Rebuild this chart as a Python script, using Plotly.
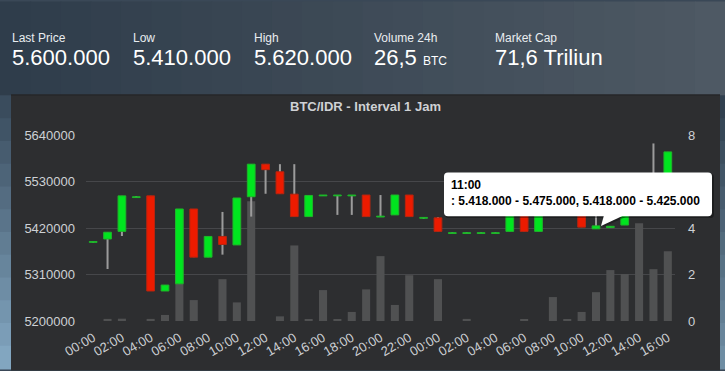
import plotly.graph_objects as go
import pandas as pd

# ---------------- data ----------------
start = "2018-01-01 00:00"
n_hours = 41
opens  = [5386000, 5394000, 5412000, 5492000, 5496000, 5271000, 5288000, 5465000, 5351000, 5400000,
          5380000, 5494000, 5571000, 5553000, 5500000, 5447000, 5496000, 5496000, 5496000, 5498000,
          5446000, 5451000, 5498000, 5443000, 5444000, 5407000, 5407000, 5407000, 5407000, 5412000,
          5458000, 5412000, 5462000, 5478000, 5475000, 5418000, 5421000, 5427000, 5460000, 5530000,
          5540000]
highs  = [5388000, 5410000, 5496000, 5494000, 5496000, 5285000, 5465000, 5465000, 5400000, 5458000,
          5491000, 5571000, 5571000, 5571000, 5571000, 5497000, 5498000, 5498000, 5498000, 5498000,
          5498000, 5498000, 5498000, 5445000, 5446000, 5409000, 5409000, 5409000, 5409000, 5455000,
          5458000, 5462000, 5500000, 5480000, 5475000, 5475000, 5424000, 5460000, 5530000, 5620000,
          5600000]
lows   = [5386000, 5323000, 5401000, 5492000, 5271000, 5271000, 5288000, 5351000, 5351000, 5357000,
          5380000, 5447000, 5501000, 5501000, 5447000, 5447000, 5496000, 5451000, 5451000, 5447000,
          5446000, 5451000, 5447000, 5443000, 5412000, 5407000, 5407000, 5407000, 5407000, 5412000,
          5412000, 5412000, 5462000, 5478000, 5422000, 5418000, 5421000, 5427000, 5460000, 5530000,
          5540000]
closes = [5388000, 5410000, 5496000, 5494000, 5271000, 5285000, 5465000, 5351000, 5400000, 5381000,
          5491000, 5571000, 5558000, 5501000, 5447000, 5497000, 5498000, 5498000, 5498000, 5447000,
          5448000, 5498000, 5447000, 5445000, 5412000, 5409000, 5409000, 5409000, 5409000, 5455000,
          5412000, 5462000, 5500000, 5480000, 5422000, 5425000, 5424000, 5460000, 5530000, 5540000,
          5600000]
volumes = [0, 0.09, 0.1, 0, 0.09, 0.26, 1.6, 0.9, 0, 1.8,
           0.8, 5.15, 0, 0.2, 3.25, 0.05, 1.33, 0.05, 0.39, 1.36,
           2.79, 0.69, 1.97, 0, 1.8, 0, 0.09, 0, 0, 0,
           0.05, 0, 1.03, 0.05, 0.39, 1.24, 2.19, 2.02, 4.2, 2.23,
           3.0]
price_ticks = [5200000, 5310000, 5420000, 5530000, 5640000]
volume_ticks = [0, 2, 4, 6, 8]
title_text = "BTC/IDR - Interval 1 Jam"
stat_labels = ["Last Price", "Low", "High", "Volume 24h", "Market Cap"]
stat_values = ["5.600.000", "5.410.000", "5.620.000", "26,5", "71,6 Triliun"]
stat_units = ["", "", "", "BTC", ""]
tooltip_index = 35

hours = pd.date_range(start, periods=n_hours, freq="h")

# ---------------- layout geometry ----------------
W, H = 725, 371
L, R, T, B = 86, 50, 135, 48
pw, ph = W - L - R, H - T - B
def px(x):
    return (x - L) / pw
def py(y):
    return (H - B - y) / ph

GREEN, RED = "#00e51f", "#ec1b00"
GREEN_E, RED_E = "#1fb52a", "#b8250f"
PANEL = "#2d2e30"
LABEL = "#cdd1d5"
HOUR = 3600000
FONT = "Liberation Sans, Arial, sans-serif"

body_base = [min(o, c) for o, c in zip(opens, closes)]
body_len = [abs(c - o) for o, c in zip(opens, closes)]
body_col = [GREEN if c >= o else RED for o, c in zip(opens, closes)]
body_edge = [GREEN_E if c >= o else RED_E for o, c in zip(opens, closes)]

fig = go.Figure()
fig.add_trace(go.Bar(x=hours, y=volumes, width=0.56 * HOUR, marker_color="#505152",
                     marker_line_width=0, yaxis="y", hoverinfo="skip"))
fig.add_trace(go.Bar(x=hours, base=lows, y=[h - l for h, l in zip(highs, lows)],
                     width=0.14 * HOUR, marker_color="#9b9b9b", marker_line_width=0,
                     yaxis="y2", hoverinfo="skip"))
fig.add_trace(go.Bar(x=hours, base=body_base, y=body_len, width=0.54 * HOUR,
                     marker=dict(color=body_col, line=dict(color=body_edge, width=1)),
                     yaxis="y2", hoverinfo="skip"))

shapes = []
# background gradient (header + side strips)
nseg = 24
c0, c1 = (47, 61, 75), (78, 89, 100)
for i in range(nseg):
    t = i / (nseg - 1)
    col = tuple(int(a + (b - a) * t) for a, b in zip(c0, c1))
    shapes.append(dict(type="rect", xref="paper", yref="paper", layer="below",
                       x0=px(i * W / nseg), x1=px((i + 1) * W / nseg + 1), y0=py(95), y1=py(0),
                       fillcolor="rgb(%d,%d,%d)" % col, line_width=0))
vseg = 12
v0, v1 = (58, 76, 93), (130, 166, 192)
for i in range(vseg):
    t = i / (vseg - 1)
    col = tuple(int(a + (b - a) * t) for a, b in zip(v0, v1))
    y0p = 95 + i * (H - 95) / vseg
    shapes.append(dict(type="rect", xref="paper", yref="paper", layer="below",
                       x0=px(0), x1=px(11), y0=py(y0p + (H - 95) / vseg + 1), y1=py(y0p),
                       fillcolor="rgb(%d,%d,%d)" % col, line_width=0))
    shapes.append(dict(type="rect", xref="paper", yref="paper", layer="below",
                       x0=px(720), x1=px(W), y0=py(y0p + (H - 95) / vseg + 1), y1=py(y0p),
                       fillcolor="rgb(%d,%d,%d)" % tuple(int(v * 0.85) for v in col), line_width=0))
# chart panel
shapes.append(dict(type="rect", xref="paper", yref="paper", layer="below",
                   x0=px(11), x1=px(720), y0=py(H + 2), y1=py(94),
                   fillcolor=PANEL, line_width=0))
shapes.append(dict(type="rect", xref="paper", yref="paper", layer="below",
                   x0=px(11), x1=px(720), y0=py(95), y1=py(94),
                   fillcolor="#222324", line_width=0))

# tooltip
tx0, tx1, ty0, ty1 = 444, 712, 173, 217
def rounded(x0, y0, x1, y1, r):
    return ("M %f,%f L %f,%f Q %f,%f %f,%f L %f,%f Q %f,%f %f,%f L %f,%f Q %f,%f %f,%f "
            "L %f,%f Q %f,%f %f,%f Z") % (
        px(x0 + r), py(y0), px(x1 - r), py(y0), px(x1), py(y0), px(x1), py(y0 + r),
        px(x1), py(y1 - r), px(x1), py(y1), px(x1 - r), py(y1),
        px(x0 + r), py(y1), px(x0), py(y1), px(x0), py(y1 - r),
        px(x0), py(y0 + r), px(x0), py(y0), px(x0 + r), py(y0))
shapes.append(dict(type="path", xref="paper", yref="paper", layer="above",
                   path=rounded(tx0 + 1, ty0 + 1, tx1 + 2, ty1 + 2, 4),
                   fillcolor="rgba(0,0,0,0.35)", line_width=0))
shapes.append(dict(type="path", xref="paper", yref="paper", layer="above",
                   path="M %f,%f L %f,%f L %f,%f Z" % (px(606), py(ty1 + 1), px(626), py(ty1 + 1), px(603), py(228)),
                   fillcolor="rgba(0,0,0,0.3)", line_width=0))
shapes.append(dict(type="path", xref="paper", yref="paper", layer="above",
                   path=rounded(tx0, ty0, tx1, ty1, 4), fillcolor="#ffffff", line_width=0))
shapes.append(dict(type="path", xref="paper", yref="paper", layer="above",
                   path="M %f,%f L %f,%f L %f,%f Z" % (px(604), py(ty1 - 1), px(624), py(ty1 - 1), px(601), py(227)),
                   fillcolor="#ffffff", line_width=0))

def fmt(v):
    return f"{v:,}".replace(",", ".")
ti = tooltip_index
tip = "<b>%s</b><br><b>: %s - %s, %s - %s</b>" % (
    hours[ti].strftime("%H:%M"), fmt(lows[ti]), fmt(highs[ti]), fmt(opens[ti]), fmt(closes[ti]))

annotations = []
annotations.append(dict(xref="paper", yref="paper", x=px(450), y=py(177), xanchor="left", yanchor="top",
                        text=tip, showarrow=False, align="left", borderpad=0,
                        font=dict(family=FONT, size=12, color="#000000")))
annotations.append(dict(xref="paper", yref="paper", x=px(365.5), y=py(106), xanchor="center", yanchor="middle",
                        text="<b>%s</b>" % title_text, showarrow=False,
                        font=dict(family=FONT, size=13, color="#cfd1d4")))
col_x = [11, 132, 253, 373, 494]
for x, lab, val, unit in zip(col_x, stat_labels, stat_values, stat_units):
    annotations.append(dict(xref="paper", yref="paper", x=px(x), y=py(37), xanchor="left", yanchor="middle",
                            text=lab, showarrow=False, borderpad=0,
                            font=dict(family=FONT, size=12, color="#e9edf0")))
    txt = val if not unit else "%s <span style='font-size:12px'>%s</span>" % (val, unit)
    annotations.append(dict(xref="paper", yref="paper", x=px(x), y=py(57), xanchor="left", yanchor="middle",
                            text=txt, showarrow=False, borderpad=0,
                            font=dict(family=FONT, size=22, color="#ffffff")))

fig.update_layout(
    width=W, height=H, margin=dict(l=L, r=R, t=T, b=B, pad=0),
    paper_bgcolor="#3a4857", plot_bgcolor=PANEL,
    barmode="overlay", showlegend=False, hovermode=False,
    shapes=shapes, annotations=annotations,
    xaxis=dict(type="date", range=[hours[0] - pd.Timedelta(minutes=30), hours[-1] + pd.Timedelta(minutes=30)],
               tickvals=list(hours[::2]), tickformat="%H:%M", tickangle=-30, showgrid=False,
               zeroline=False, showline=False, ticks="", ticklabelstandoff=6,
               tickfont=dict(family=FONT, size=13, color=LABEL)),
    yaxis=dict(side="right", range=[0, 8], tickvals=volume_ticks, showgrid=True,
               gridcolor="#46474a", gridwidth=1.3, zeroline=False, showline=False, ticks="",
               ticklabelstandoff=12,
               tickfont=dict(family=FONT, size=13, color=LABEL)),
    yaxis2=dict(side="left", overlaying="y", range=[5200000, 5640000], tickvals=price_ticks,
                tickformat="d", showgrid=False, zeroline=False, showline=False, ticks="",
                ticklabelstandoff=10,
                tickfont=dict(family=FONT, size=13, color=LABEL)),
)

fig.write_html("out.html", config={"displayModeBar": False},
               post_script="document.body.style.margin='0';document.body.style.overflow='hidden';")
